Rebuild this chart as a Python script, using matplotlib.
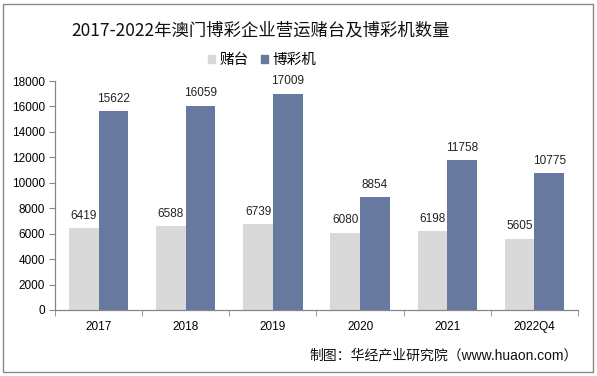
import matplotlib
matplotlib.use("Agg")
import matplotlib.pyplot as plt
from matplotlib.patches import Rectangle
import numpy as np

plt.rcParams['font.family'] = ['Liberation Sans', 'Noto Sans CJK SC', 'DejaVu Sans']

categories = ["2017", "2018", "2019", "2020", "2021", "2022Q4"]
tables = [6419, 6588, 6739, 6080, 6198, 5605]
slots = [15622, 16059, 17009, 8854, 11758, 10775]
series_names = ["赌台", "博彩机"]
title = "2017-2022年澳门博彩企业营运赌台及博彩机数量"
source = "制图：华经产业研究院（www.huaon.com）"

c_gray = "#D9D9D9"
c_blue = "#68799F"

fig = plt.figure(figsize=(5.97, 3.76), dpi=100)
ax = fig.add_axes([55/597, 1-310/376, (578-55)/597, (310-81)/376])

x = np.arange(len(categories))
w = 0.34
b1 = ax.bar(x - w/2, tables, width=w, color=c_gray, label=series_names[0])
b2 = ax.bar(x + w/2, slots, width=w, color=c_blue, label=series_names[1])

for rect, v in zip(list(b1) + list(b2), tables + slots):
    ax.text(rect.get_x() + rect.get_width()/2, v + 500, str(v),
            ha='center', va='bottom', fontsize=8.5, color='#222222')

ax.set_xlim(-0.5, len(categories) - 0.5)
ax.set_ylim(0, 18000)
ax.set_yticks(np.arange(0, 18001, 2000))
ax.tick_params(axis='y', labelsize=8.5, length=4, color='#868686', direction='out', pad=3)
ax.set_xticks(x)
ax.set_xticklabels(categories)
ax.tick_params(axis='x', which='major', length=0, labelsize=8.5, pad=8)
ax.set_xticks(np.arange(-0.5, len(categories), 1), minor=True)
ax.tick_params(axis='x', which='minor', length=4, color='#868686', direction='out')

for s in ['top', 'right']:
    ax.spines[s].set_visible(False)
for s in ['left', 'bottom']:
    ax.spines[s].set_color('#868686')
    ax.spines[s].set_linewidth(0.9)

fig.text(261/597, 1-30/376, title, ha='center', va='center', fontsize=12.5,
         family=['Noto Sans CJK SC'], color='#111111')

handles = [Rectangle((0, 0), 1, 1, color=c_gray), Rectangle((0, 0), 1, 1, color=c_blue)]
fig.legend(handles, series_names, loc='center', bbox_to_anchor=(262/597, 1-60/376),
           ncol=2, frameon=False, handlelength=0.5, handleheight=0.5,
           handletextpad=0.3, columnspacing=0.8, prop={'family': ['Noto Sans CJK SC'], 'size': 10.5})

fig.text(578/597, 1-355/376, source, ha='right', va='center', fontsize=10, color='#111111')

fig.patches.append(Rectangle((3/597, 4/376), 590/597, 368/376, transform=fig.transFigure,
                             fill=False, edgecolor='#888888', linewidth=1.0))

fig.savefig("out.png", dpi=100)
